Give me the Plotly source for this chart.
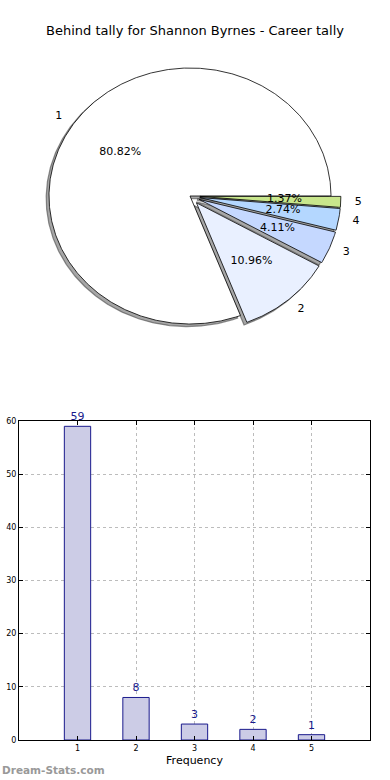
import numpy as np
import plotly.graph_objects as go

# ---- data ----
categories = ["1", "2", "3", "4", "5"]
counts = [59, 8, 3, 2, 1]
title_text = "Behind tally for Shannon Byrnes - Career tally"
x_label = "Frequency"
y_ticks = [0, 10, 20, 30, 40, 50, 60]

# ---- styles ----
slice_colors = ["#ffffff", "#e9f0ff", "#c5d8ff", "#b4d7ff", "#c8e68c"]
explode = [0.0, 0.07, 0.07, 0.07, 0.07]
bar_fill = "#cccce6"
bar_edge = "#1a1a8c"
FONT = "DejaVu Sans"

W, H = 390, 780
fig = go.Figure()

# pie axes: x unit = 141px, y unit = 128px, center at (190,196) px
cx_px, cy_px, rx_px, ry_px = 190, 196, 141, 128
pie_top_px, pie_bot_px = 0, 390
xr = [-cx_px / rx_px, (W - cx_px) / rx_px]
yr = [-(pie_bot_px - cy_px) / ry_px, (cy_px - pie_top_px) / ry_px]

total = float(sum(counts))
fracs = [c / total for c in counts]
starts = np.concatenate([[0], np.cumsum(fracs)[:-1]]) * 360.0
ends = np.cumsum(fracs) * 360.0


def wedge(i, dx=0.0, dy=0.0):
    t1, t2 = starts[i], ends[i]
    mid = np.deg2rad((t1 + t2) / 2)
    ox = explode[i] * np.cos(mid) + dx
    oy = explode[i] * np.sin(mid) + dy
    th = np.deg2rad(np.linspace(t1, t2, max(8, int((t2 - t1) * 2))))
    xs = np.concatenate([[ox], ox + np.cos(th), [ox]])
    ys = np.concatenate([[oy], oy + np.sin(th), [oy]])
    return xs, ys, ox, oy, mid


# shadows first
for i in range(len(counts)):
    xs, ys, *_ = wedge(i, -0.02, -0.02)
    fig.add_trace(go.Scatter(x=xs, y=ys, mode="lines", fill="toself",
                             fillcolor="rgba(77,77,77,0.5)",
                             line=dict(color="rgba(60,60,60,0.55)", width=1.2),
                             xaxis="x2", yaxis="y2", hoverinfo="skip",
                             showlegend=False))
# wedges
for i in range(len(counts)):
    xs, ys, ox, oy, mid = wedge(i)
    fig.add_trace(go.Scatter(x=xs, y=ys, mode="lines", fill="toself",
                             fillcolor=slice_colors[i],
                             line=dict(color="black", width=0.8),
                             xaxis="x2", yaxis="y2", hoverinfo="skip",
                             showlegend=False))
# texts
for i in range(len(counts)):
    xs, ys, ox, oy, mid = wedge(i)
    pct = "%.2f%%" % (fracs[i] * 100)
    fig.add_trace(go.Scatter(x=[ox + 0.6 * np.cos(mid)], y=[oy + 0.6 * np.sin(mid)],
                             mode="text", text=[pct], textposition="middle center",
                             textfont=dict(family=FONT, size=11, color="black"),
                             xaxis="x2", yaxis="y2", hoverinfo="skip",
                             showlegend=False))
    lx = ox + 1.1 * np.cos(mid)
    ly = oy + 1.1 * np.sin(mid)
    fig.add_trace(go.Scatter(x=[lx], y=[ly], mode="text", text=[categories[i]],
                             textposition="middle left" if lx < 0 else "middle right",
                             textfont=dict(family=FONT, size=11, color="black"),
                             xaxis="x2", yaxis="y2", hoverinfo="skip",
                             showlegend=False))

# bar chart
fig.add_trace(go.Bar(x=[int(c) for c in categories], y=counts, width=0.45,
                     marker=dict(color=bar_fill, line=dict(color=bar_edge, width=1)),
                     text=[str(c) for c in counts], textposition="outside",
                     textfont=dict(family=FONT, size=11, color=bar_edge),
                     cliponaxis=False, xaxis="x", yaxis="y", showlegend=False,
                     hoverinfo="skip"))

grid = dict(showgrid=True, gridcolor="#bcbcbc", griddash="dot", gridwidth=1)
fig.update_layout(
    width=W, height=H,
    margin=dict(l=0, r=0, t=0, b=0, autoexpand=False),
    paper_bgcolor="white", plot_bgcolor="white",
    font=dict(family=FONT, color="black"),
    title=dict(text=title_text, x=0.5, xanchor="center", y=1 - 30 / H, yanchor="middle",
               font=dict(family=FONT, size=13, color="black")),
    xaxis2=dict(domain=[0, 1], range=xr, visible=False, fixedrange=True, anchor="y2",
                automargin=False),
    yaxis2=dict(domain=[0.5, 1], range=yr, visible=False, fixedrange=True, anchor="x2",
                automargin=False),
    xaxis=dict(domain=[19 / W, 370 / W], range=[0, 6], anchor="y", automargin=False,
               tickvals=[1, 2, 3, 4, 5], ticktext=categories,
               ticks="inside", ticklen=4, tickcolor="black",
               showline=True, linecolor="black", linewidth=1, mirror="ticks",
               tickfont=dict(family=FONT, size=8, color="black"),
               title=dict(text=x_label, font=dict(family=FONT, size=11), standoff=4),
               zeroline=False, fixedrange=True, **grid),
    yaxis=dict(domain=[1 - 740 / H, 1 - 421 / H], range=[0, 60], anchor="x",
               automargin=False,
               tickvals=y_ticks, ticks="inside", ticklen=4, tickcolor="black",
               showline=True, linecolor="black", linewidth=1, mirror="ticks",
               tickfont=dict(family=FONT, size=8, color="black"),
               zeroline=False, fixedrange=True, **grid),
    annotations=[dict(text="<b>Dream-Stats.com</b>", x=0, y=1 - 770 / H,
                      xref="paper", yref="paper", xanchor="left", yanchor="middle",
                      showarrow=False,
                      font=dict(family=FONT, size=10.5, color="#999999"))],
)

fig.write_html("out.html", config={"displayModeBar": False},
               post_script="document.body.style.margin='0';document.body.style.overflow='hidden';")
